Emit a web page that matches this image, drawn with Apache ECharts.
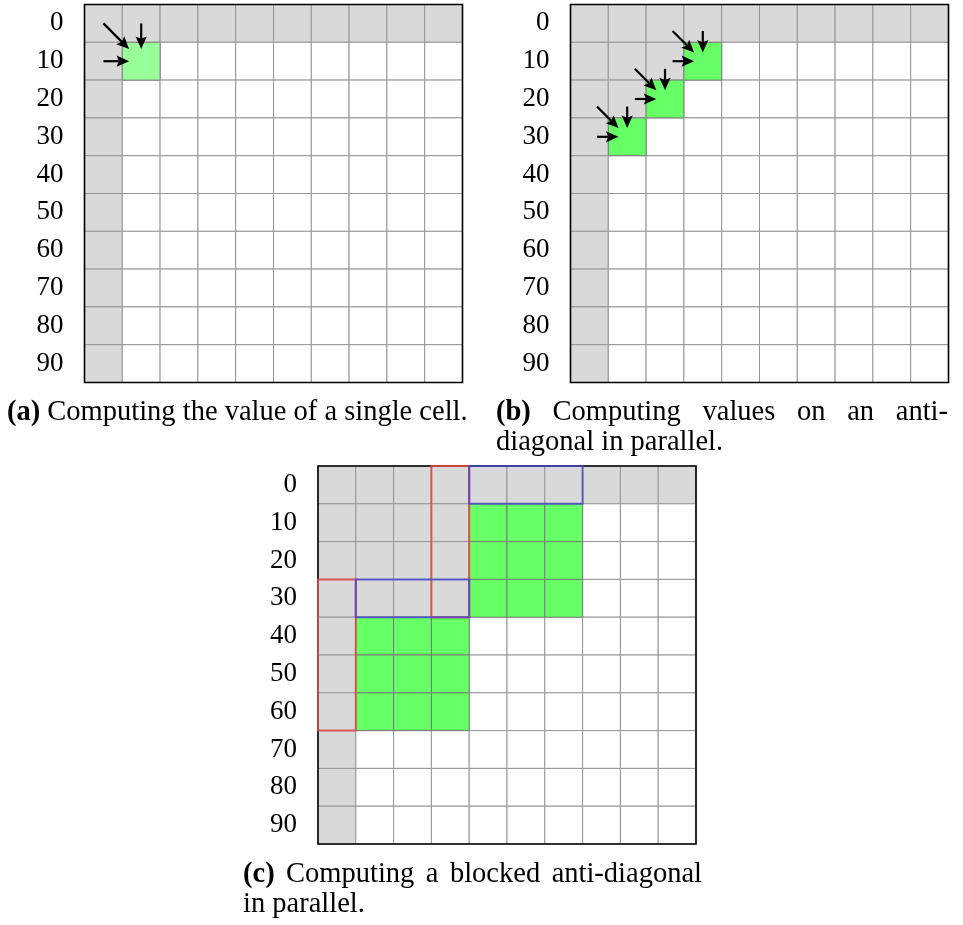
<!DOCTYPE html>
<html><head><meta charset="utf-8">
<script src="https://cdn.jsdelivr.net/npm/echarts@6/dist/echarts.min.js"></script>
<style>html,body{margin:0;padding:0;background:#fff}#c{width:963px;height:925px}</style>
</head><body><div id="c"></div>
<script>
// ---------------- data ----------------
const rowLabels = ['0','10','20','30','40','50','60','70','80','90'];
const colCount = 10;
// number of already-computed (grey) leading cells in each row
const computedA = [10,1,1,1,1,1,1,1,1,1];
const computedB = [10,3,2,1,1,1,1,1,1,1];
const computedC = [10,4,4,4,1,1,1,1,1,1];
// cells being computed [column,row]
const activeA = [[1,1]];
const activeB = [[3,1],[2,2],[1,3]];
const activeC = [[4,1],[5,1],[6,1],[4,2],[5,2],[6,2],[4,3],[5,3],[6,3],
                 [1,4],[2,4],[3,4],[1,5],[2,5],[3,5],[1,6],[2,6],[3,6]];
// dependency outlines in panel c: [column,row,width,height]
const leftDepsC = [[3,0,1,4],[0,3,1,4]];
const topDepsC  = [[4,0,3,1],[1,3,3,1]];
// captions
const captionA = ['(a)', 'Computing the value of a single cell.'];
const captionB1 = ['(b)', 'Computing', 'values', 'on', 'an', 'anti-'];
const captionB2 = 'diagonal in parallel.';
const captionC1 = ['(c)', 'Computing', 'a', 'blocked', 'anti-diagonal'];
const captionC2 = 'in parallel.';

// ---------------- layout / style ----------------
const FONT = '"Liberation Serif", "Times New Roman", serif';
const LABEL_FS = 27;
const panels = [
  {left:84.5, top:4.5, size:378, computed:computedA, active:activeA, activeState:2, arrowStart:0.5, arrowEnd:0.18},
  {left:570.5, top:4.5, size:378, computed:computedB, active:activeB, activeState:3, arrowStart:0.3, arrowEnd:0.27},
  {left:318, top:466, size:378, computed:computedC, active:activeC, activeState:3, arrowStart:null}
];
const fills = ['#ffffff', '#d9d9d9', '#99ff99', '#66ff66'];

function buildCells(p){
  const st = [];
  for (let r = 0; r < rowLabels.length; r++) {
    st.push([]);
    for (let c = 0; c < colCount; c++) st[r].push(c < p.computed[r] ? 1 : 0);
  }
  p.active.forEach(([c,r]) => { st[r][c] = p.activeState; });
  const out = [];
  for (let r = 0; r < rowLabels.length; r++) for (let c = 0; c < colCount; c++) out.push([c, r, st[r][c]]);
  out.sort((a,b) => (a[2] >= 2 ? 1 : 0) - (b[2] >= 2 ? 1 : 0));
  return out;
}
function buildArrows(p){
  const out = [];
  if (p.arrowStart == null) return out;
  p.active.forEach(([c,r]) => {
    const s = p.arrowStart, e = p.arrowEnd;
    out.push([c+0.5, r-s, c+0.5, r+e]);      // from above
    out.push([c-s, r+0.5, c+e, r+0.5]);      // from left
    out.push([c-s, r-s, c+e, r+e]);          // from upper-left
  });
  return out;
}

function rectFrom(api, c, r, w, h){
  const p0 = api.coord([c, r]), p1 = api.coord([c+w, r+h]);
  return {x:Math.min(p0[0],p1[0]), y:Math.min(p0[1],p1[1]), width:Math.abs(p1[0]-p0[0]), height:Math.abs(p1[1]-p0[1])};
}
function cellItem(params, api){
  const s = api.value(2);
  return {type:'rect', shape:rectFrom(api, api.value(0), api.value(1), 1, 1),
          style:{fill:fills[s], stroke: s >= 2 ? '#7a7a7a' : '#969696', lineWidth:1}};
}
function frameItem(params, api){
  return {type:'rect', shape:rectFrom(api, api.value(0), api.value(1), api.value(2), api.value(3)),
          style:{fill:'transparent', stroke:'#000', lineWidth:1.6}};
}
function outlineItem(color){
  return function(params, api){
    return {type:'rect', shape:rectFrom(api, api.value(0), api.value(1), api.value(2), api.value(3)),
            style:{fill:'transparent', stroke:color, lineWidth:2}};
  };
}
function arrowItem(params, api){
  const a = api.coord([api.value(0), api.value(1)]);
  const b = api.coord([api.value(2), api.value(3)]);
  const dx = b[0]-a[0], dy = b[1]-a[1], L = Math.hypot(dx,dy), ux = dx/L, uy = dy/L;
  const hl = 12.5, hw = 5.6;
  const base = [b[0]-ux*hl, b[1]-uy*hl];
  const notch = [b[0]-ux*hl*0.82, b[1]-uy*hl*0.82];
  const head = [[b[0],b[1]],[base[0]-uy*hw, base[1]+ux*hw],notch,[base[0]+uy*hw, base[1]-ux*hw]];
  return {type:'group', children:[
    {type:'line', shape:{x1:a[0], y1:a[1], x2:notch[0], y2:notch[1]}, style:{stroke:'#000', lineWidth:2.2}},
    {type:'polygon', shape:{points:head}, style:{fill:'#000'}}
  ]};
}

const grid = [], xAxis = [], yAxis = [], series = [];
panels.forEach((p, i) => {
  grid.push({left:p.left, top:p.top, width:p.size, height:p.size, containLabel:false});
  xAxis.push({gridIndex:i, type:'value', min:0, max:colCount, interval:1, show:false});
  yAxis.push({gridIndex:i, type:'value', min:0, max:rowLabels.length, interval:1, inverse:true, show:false, position:'right'});
  yAxis.push({gridIndex:i, type:'category', data:rowLabels, inverse:true, position:'left',
    axisLine:{show:false}, axisTick:{show:false}, splitLine:{show:false},
    axisLabel:{fontFamily:FONT, fontSize:LABEL_FS, color:'#000', margin:21}});
  const yi = 2*i;
  series.push({type:'custom', xAxisIndex:i, yAxisIndex:yi, z:2, renderItem:cellItem, data:buildCells(p), silent:true});
  series.push({type:'custom', xAxisIndex:i, yAxisIndex:yi, z:3, renderItem:frameItem, data:[[0,0,colCount,rowLabels.length]], silent:true});
  if (i === 2) {
    series.push({type:'custom', xAxisIndex:i, yAxisIndex:yi, z:4, renderItem:outlineItem('rgba(228,70,70,0.85)'), data:leftDepsC, silent:true});
    series.push({type:'custom', xAxisIndex:i, yAxisIndex:yi, z:5, renderItem:outlineItem('rgba(70,70,205,0.8)'), data:topDepsC, silent:true});
  }
  const arr = buildArrows(p);
  if (arr.length) series.push({type:'custom', xAxisIndex:i, yAxisIndex:yi, z:6, renderItem:arrowItem, data:arr, silent:true, clip:false});
});

// ---------- captions ----------
const mctx = document.createElement('canvas').getContext('2d');
function wWidth(t, bold, fs){ mctx.font = (bold ? 'bold ' : '') + fs + 'px ' + FONT; return mctx.measureText(t).width; }
// caption font size chosen so that caption (a) fills its column width
const capTarget = 460;
let FS = 28;
{
  const w = wWidth(captionA[0] + ' ', true, 28) + wWidth(captionA[1], false, 28);
  FS = Math.round(28 * capTarget / w * 10) / 10;
}
function justified(words, x0, x1, y){
  const widths = words.map((w,k) => wWidth(w, k === 0, FS));
  const sum = widths.reduce((a,b)=>a+b,0);
  const gap = (x1 - x0 - sum) / (words.length - 1);
  let x = x0; const els = [];
  words.forEach((w,k) => {
    els.push({type:'text', x:x, y:y, style:{text:w, fontFamily:FONT, fontSize:FS, fontWeight:k===0?'bold':'normal', fill:'#000', verticalAlign:'middle'}});
    x += widths[k] + gap;
  });
  return els;
}
const graphic = [];
graphic.push({type:'text', x:7, y:413, style:{text:'{b|' + captionA[0] + '} ' + captionA[1], fontFamily:FONT, fontSize:FS, fill:'#000', verticalAlign:'middle',
  rich:{b:{fontFamily:FONT, fontSize:FS, fontWeight:'bold', fill:'#000'}}}});
justified(captionB1, 496, 948, 413).forEach(e => graphic.push(e));
graphic.push({type:'text', x:496, y:443, style:{text:captionB2, fontFamily:FONT, fontSize:FS, fill:'#000', verticalAlign:'middle'}});
justified(captionC1, 243, 702, 875).forEach(e => graphic.push(e));
graphic.push({type:'text', x:243, y:905, style:{text:captionC2, fontFamily:FONT, fontSize:FS, fill:'#000', verticalAlign:'middle'}});

const chart = echarts.init(document.getElementById('c'), null, {renderer:'canvas'});
chart.setOption({animation:false, backgroundColor:'#fff', grid, xAxis, yAxis, series, graphic});
</script></body></html>
